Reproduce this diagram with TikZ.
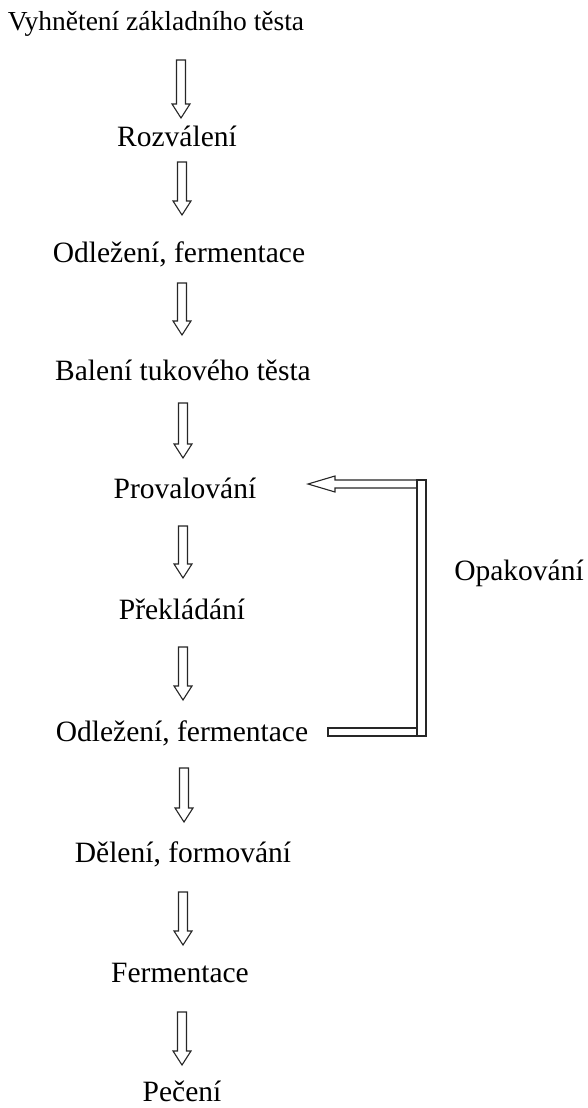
\documentclass[tikz,border=0pt]{standalone}
\usepackage{fontspec}
\setmainfont{Liberation Serif}
\usetikzlibrary{calc}
\begin{document}
\begin{tikzpicture}[x=1pt,y=-1pt,
  txt/.style={font=\fontsize{29.5}{35}\selectfont, anchor=base, inner sep=0pt},
  blk/.style={draw=black!85, line width=1.1pt, fill=white, line join=miter},
  blockdown/.style={blk, to path={let \p1=(\tikztostart), \p2=(\tikztotarget) in
     (\x1-4.5pt,\y1) -- (\x1+4.5pt,\y1) -- (\x1+4.5pt,\y2+14pt) -- (\x1+9pt,\y2+14pt)
     -- (\x1,\y2) -- (\x1-9pt,\y2+14pt) -- (\x1-4.5pt,\y2+14pt) -- cycle}}]
\useasboundingbox (0,0) rectangle (587,1108);

\node[txt, font=\fontsize{27.5}{33}\selectfont] (t1) at (156,31) {Vyhnětení základního těsta};
\node[txt] (t2) at (177,146) {Rozválení};
\node[txt] (t3) at (179,262) {Odležení, fermentace};
\node[txt] (t4) at (183,380) {Balení tukového těsta};
\node[txt] (t5) at (185,498) {Provalování};
\node[txt] (t6) at (182,619) {Překládání};
\node[txt] (t7) at (182,741) {Odležení, fermentace};
\node[txt] (t8) at (183,862) {Dělení, formování};
\node[txt] (t9) at (180,982) {Fermentace};
\node[txt] (t10) at (182,1101) {Pečení};
\node[txt] (op) at (519,580) {Opakování};

\coordinate (a1s) at (181,60);  \coordinate (a1e) at (181,118);
\coordinate (a2s) at (182,162); \coordinate (a2e) at (182,215);
\coordinate (a3s) at (182,283); \coordinate (a3e) at (182,335);
\coordinate (a4s) at (183,403); \coordinate (a4e) at (183,458);
\coordinate (a5s) at (183,526); \coordinate (a5e) at (183,578);
\coordinate (a6s) at (183,647); \coordinate (a6e) at (183,700);
\coordinate (a7s) at (184,768); \coordinate (a7e) at (184,822);
\coordinate (a8s) at (183,892); \coordinate (a8e) at (183,945);
\coordinate (a9s) at (182,1012); \coordinate (a9e) at (182,1065);

\foreach \i in {1,...,9} { \draw[blockdown] (a\i s) to (a\i e); }

% repeat loop
\draw[blk] (328,728) rectangle (426,736);
\draw[blk] (308,484) -- (335,476) -- (335,480) -- (426,480) -- (426,488) -- (335,488) -- (335,492) -- cycle;
\draw[blk] (417,480) rectangle (426,736);
\end{tikzpicture}
\end{document}
